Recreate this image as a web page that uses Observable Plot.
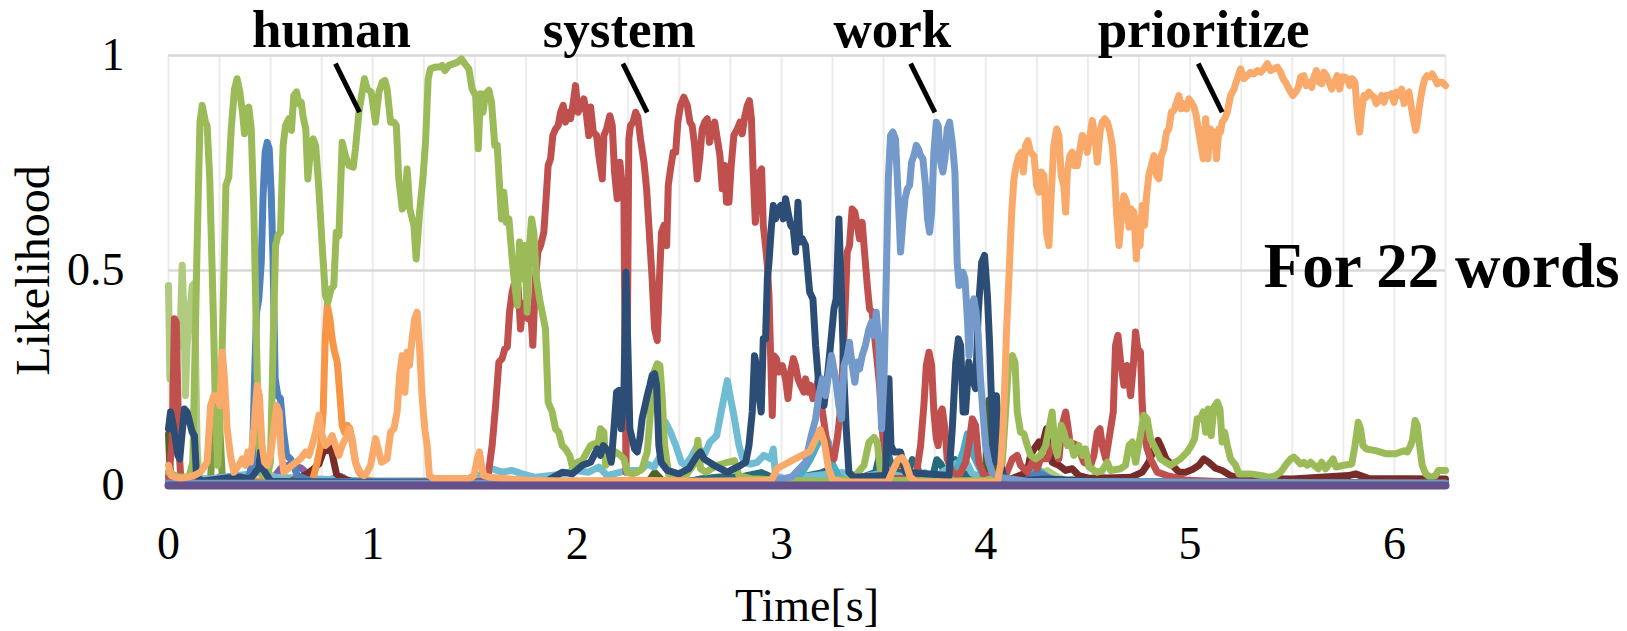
<!DOCTYPE html>
<html><head><meta charset="utf-8">
<script src="https://cdn.jsdelivr.net/npm/d3@7"></script>
<script src="https://cdn.jsdelivr.net/npm/@observablehq/plot@0.6"></script>
<style>html,body{margin:0;padding:0;background:#fff;} #chart{width:1627px;height:631px;} #chart svg text{font-family:'Liberation Serif','Times New Roman',serif;}</style>
</head><body><div id="chart"></div>
<script>
// ---- axis / tick values ----
const xTicks = [0, 1, 2, 3, 4, 5, 6];
const yTicks = [0, 0.5, 1];
const gridStep = 0.25;
const xMax = 6.25;

// ---- annotations ----
const words = ["human", "system", "work", "prioritize"];
const wordT = [0.798, 2.206, 3.543, 5.066];
const wordV = 1.019;
const leaderT1 = [0.817, 2.224, 3.632, 5.040];
const leaderT2 = [0.935, 2.343, 3.751, 5.157];
const leaderV1 = 0.981, leaderV2 = 0.868;
const note = "For 22 words";

// ---- series: [time s, likelihood] ----
const green = [[0,0.03],[0.05,0.02],[0.10,0.02],[0.119,0.054],[0.140,0.558],[0.154,0.845],[0.165,0.884],[0.181,0.845],[0.189,0.837],[0.202,0.713],[0.219,0.403],[0.230,0.171],[0.241,0.047],[0.255,0.171],[0.271,0.481],[0.281,0.698],[0.295,0.717],[0.307,0.829],[0.323,0.922],[0.336,0.946],[0.349,0.915],[0.362,0.868],[0.372,0.818],[0.382,0.876],[0.393,0.880],[0.405,0.829],[0.418,0.636],[0.431,0.326],[0.442,0.093],[0.458,0.023],[0.483,0.02],[0.499,0.054],[0.512,0.326],[0.524,0.558],[0.535,0.581],[0.548,0.589],[0.561,0.791],[0.573,0.837],[0.589,0.853],[0.602,0.826],[0.613,0.907],[0.627,0.915],[0.638,0.888],[0.650,0.891],[0.659,0.857],[0.672,0.829],[0.682,0.713],[0.695,0.783],[0.708,0.806],[0.720,0.791],[0.736,0.690],[0.752,0.558],[0.768,0.442],[0.780,0.426],[0.796,0.457],[0.809,0.465],[0.821,0.589],[0.834,0.581],[0.850,0.798],[0.866,0.767],[0.883,0.744],[0.904,0.740],[0.915,0.783],[0.932,0.868],[0.948,0.915],[0.959,0.946],[0.972,0.922],[0.992,0.915],[1.013,0.845],[1.030,0.915],[1.046,0.938],[1.059,0.942],[1.070,0.922],[1.087,0.845],[1.103,0.845],[1.115,0.837],[1.127,0.713],[1.144,0.643],[1.157,0.659],[1.168,0.736],[1.181,0.643],[1.201,0.605],[1.212,0.527],[1.229,0.636],[1.245,0.713],[1.258,0.798],[1.271,0.946],[1.282,0.969],[1.306,0.973],[1.326,0.973],[1.339,0.977],[1.353,0.965],[1.372,0.977],[1.397,0.981],[1.413,0.984],[1.434,0.992],[1.450,0.981],[1.470,0.969],[1.486,0.922],[1.503,0.907],[1.516,0.783],[1.527,0.911],[1.539,0.868],[1.552,0.911],[1.568,0.919],[1.581,0.891],[1.597,0.791],[1.609,0.791],[1.620,0.698],[1.630,0.620],[1.641,0.682],[1.654,0.612],[1.666,0.620],[1.682,0.527],[1.695,0.465],[1.707,0.419],[1.718,0.566],[1.731,0.481],[1.744,0.558],[1.755,0.403],[1.767,0.558],[1.777,0.620],[1.788,0.589],[1.801,0.481],[1.816,0.434],[1.829,0.403],[1.845,0.364],[1.858,0.194],[1.878,0.171],[1.894,0.132],[1.910,0.124],[1.927,0.093],[1.943,0.085],[1.963,0.070],[1.979,0.039],[2.000,0.054],[2.025,0.058],[2.066,0.093],[2.082,0.097],[2.098,0.085],[2.114,0.132],[2.131,0.124],[2.139,0.047],[2.163,0.062],[2.188,0.078],[2.212,0.070],[2.229,0.062],[2.245,0.031],[2.270,0.027],[2.294,0.031],[2.318,0.039],[2.343,0.078],[2.359,0.171],[2.376,0.264],[2.392,0.283],[2.405,0.279],[2.416,0.209],[2.428,0.093],[2.449,0.023],[2.490,0.016],[2.522,0.016],[2.555,0.039],[2.580,0.054],[2.591,0.105],[2.604,0.039],[2.629,0.031],[2.686,0.047],[2.710,0.050],[2.735,0.054],[2.770,0.058],[2.792,0.023],[2.849,0.016],[3.0,0.012],[3.2,0.01],[3.35,0.015],[3.404,0.047],[3.428,0.10],[3.453,0.112],[3.469,0.10],[3.485,0.031],[3.52,0.012],[3.8,0.01],[4.0,0.012],[4.06,0.02],[4.081,0.054],[4.097,0.171],[4.113,0.295],[4.130,0.302],[4.143,0.287],[4.154,0.171],[4.170,0.124],[4.187,0.120],[4.203,0.093],[4.219,0.070],[4.244,0.062],[4.268,0.070],[4.293,0.093],[4.309,0.132],[4.325,0.171],[4.338,0.093],[4.350,0.070],[4.369,0.140],[4.382,0.124],[4.399,0.093],[4.415,0.101],[4.431,0.070],[4.456,0.093],[4.472,0.070],[4.488,0.085],[4.505,0.043],[4.546,0.031],[4.570,0.035],[4.595,0.054],[4.611,0.035],[4.660,0.039],[4.684,0.047],[4.701,0.093],[4.717,0.101],[4.733,0.054],[4.754,0.109],[4.774,0.163],[4.790,0.155],[4.806,0.109],[4.823,0.093],[4.855,0.062],[4.904,0.047],[4.953,0.062],[4.986,0.078],[5.006,0.093],[5.022,0.109],[5.035,0.155],[5.051,0.155],[5.064,0.171],[5.076,0.124],[5.089,0.178],[5.103,0.116],[5.117,0.182],[5.133,0.194],[5.146,0.178],[5.157,0.101],[5.169,0.124],[5.182,0.093],[5.198,0.062],[5.223,0.047],[5.239,0.027],[5.296,0.027],[5.353,0.023],[5.386,0.019],[5.418,0.023],[5.443,0.031],[5.467,0.047],[5.492,0.062],[5.508,0.066],[5.525,0.058],[5.541,0.050],[5.557,0.054],[5.574,0.047],[5.590,0.054],[5.606,0.047],[5.627,0.039],[5.644,0.054],[5.663,0.039],[5.688,0.054],[5.700,0.062],[5.713,0.043],[5.753,0.047],[5.791,0.050],[5.807,0.093],[5.823,0.147],[5.834,0.132],[5.846,0.093],[5.862,0.085],[5.908,0.081],[5.957,0.074],[6.006,0.074],[6.047,0.081],[6.063,0.078],[6.079,0.093],[6.088,0.105],[6.101,0.151],[6.112,0.140],[6.123,0.093],[6.136,0.047],[6.153,0.027],[6.177,0.019],[6.201,0.023],[6.215,0.035],[6.250,0.035]];

const red = [[0,0.02],[0.018,0.10],[0.029,0.388],[0.038,0.38],[0.045,0.22],[0.052,0.08],[0.06,0.02],[0.1,0.008],[0.5,0.005],[1.0,0.005],[1.45,0.008],[1.560,0.008],[1.584,0.093],[1.601,0.186],[1.617,0.287],[1.633,0.295],[1.646,0.318],[1.658,0.322],[1.669,0.403],[1.682,0.450],[1.699,0.481],[1.712,0.457],[1.723,0.364],[1.734,0.419],[1.747,0.426],[1.760,0.388],[1.772,0.411],[1.783,0.326],[1.796,0.481],[1.808,0.543],[1.821,0.558],[1.837,0.589],[1.849,0.674],[1.858,0.744],[1.870,0.760],[1.881,0.814],[1.894,0.829],[1.907,0.837],[1.919,0.868],[1.932,0.884],[1.943,0.845],[1.956,0.868],[1.968,0.853],[1.979,0.884],[1.992,0.930],[2.005,0.868],[2.021,0.884],[2.033,0.899],[2.044,0.868],[2.057,0.814],[2.066,0.88],[2.079,0.822],[2.095,0.814],[2.106,0.767],[2.123,0.713],[2.131,0.814],[2.144,0.829],[2.160,0.860],[2.172,0.837],[2.183,0.729],[2.196,0.667],[2.209,0.752],[2.221,0.698],[2.229,0.659],[2.239,0.031],[2.248,0.481],[2.253,0.806],[2.261,0.837],[2.274,0.845],[2.286,0.868],[2.297,0.857],[2.310,0.806],[2.327,0.752],[2.340,0.690],[2.351,0.605],[2.367,0.481],[2.379,0.364],[2.392,0.337],[2.403,0.481],[2.413,0.589],[2.425,0.605],[2.438,0.558],[2.446,0.698],[2.457,0.736],[2.470,0.775],[2.482,0.775],[2.493,0.845],[2.506,0.884],[2.522,0.903],[2.539,0.884],[2.552,0.845],[2.563,0.837],[2.575,0.791],[2.588,0.713],[2.601,0.767],[2.612,0.829],[2.624,0.845],[2.637,0.853],[2.648,0.798],[2.661,0.829],[2.673,0.845],[2.686,0.806],[2.699,0.767],[2.710,0.690],[2.722,0.744],[2.731,0.659],[2.743,0.659],[2.754,0.744],[2.767,0.814],[2.784,0.829],[2.797,0.845],[2.808,0.818],[2.820,0.857],[2.833,0.884],[2.843,0.895],[2.853,0.853],[2.861,0.736],[2.872,0.612],[2.882,0.674],[2.893,0.729],[2.903,0.736],[2.911,0.605],[2.922,0.558],[2.931,0.512],[2.939,0.442],[2.947,0.302],[2.955,0.163],[2.963,0.302],[2.975,0.295],[2.988,0.264],[3.004,0.279],[3.020,0.248],[3.032,0.202],[3.045,0.264],[3.058,0.295],[3.069,0.279],[3.081,0.248],[3.094,0.233],[3.110,0.217],[3.118,0.248],[3.131,0.217],[3.142,0.233],[3.154,0.202],[3.167,0.217],[3.180,0.248],[3.191,0.202],[3.208,0.147],[3.224,0.093],[3.240,0.070],[3.257,0.062],[3.273,0.109],[3.286,0.163],[3.297,0.248],[3.311,0.403],[3.322,0.543],[3.333,0.558],[3.346,0.643],[3.359,0.636],[3.371,0.605],[3.382,0.574],[3.395,0.612],[3.408,0.535],[3.420,0.465],[3.431,0.411],[3.444,0.403],[3.457,0.341],[3.469,0.287],[3.480,0.233],[3.493,0.132],[3.510,0.039],[3.542,0.016],[3.657,0.016],[3.681,0.093],[3.697,0.186],[3.709,0.279],[3.722,0.310],[3.735,0.279],[3.746,0.171],[3.758,0.109],[3.767,0.093],[3.779,0.171],[3.787,0.178],[3.800,0.132],[3.811,0.062],[3.836,0.031],[3.869,0.023],[3.901,0.054],[3.917,0.093],[3.934,0.155],[3.950,0.140],[3.966,0.054],[3.991,0.023],[4.097,0.023],[4.130,0.062],[4.154,0.070],[4.170,0.047],[4.203,0.031],[4.235,0.062],[4.252,0.039],[4.268,0.062],[4.301,0.062],[4.325,0.093],[4.342,0.101],[4.358,0.062],[4.374,0.140],[4.391,0.171],[4.399,0.147],[4.412,0.101],[4.448,0.093],[4.480,0.054],[4.513,0.047],[4.529,0.070],[4.546,0.124],[4.559,0.132],[4.570,0.093],[4.587,0.062],[4.598,0.093],[4.611,0.132],[4.624,0.171],[4.635,0.326],[4.647,0.349],[4.660,0.287],[4.676,0.233],[4.692,0.279],[4.709,0.209],[4.722,0.279],[4.733,0.357],[4.744,0.318],[4.757,0.310],[4.766,0.186],[4.777,0.116],[4.790,0.085],[4.806,0.062],[4.839,0.031],[4.888,0.023],[4.986,0.012],[5.2,0.008],[6.25,0.005]];

const navy = [[0,0.132],[0.010,0.171],[0.023,0.140],[0.034,0.109],[0.046,0.070],[0.055,0.062],[0.067,0.124],[0.078,0.178],[0.091,0.171],[0.104,0.147],[0.116,0.124],[0.127,0.116],[0.137,0.023],[0.16,0.01],[0.25,0.015],[0.35,0.02],[0.40,0.015],[0.44,0.04],[0.45,0.078],[0.46,0.04],[0.5,0.01],[0.7,0.008],[1.5,0.005],[1.85,0.01],[1.927,0.031],[1.976,0.027],[2.025,0.047],[2.066,0.054],[2.098,0.085],[2.114,0.070],[2.128,0.093],[2.155,0.078],[2.167,0.054],[2.180,0.132],[2.193,0.217],[2.204,0.221],[2.216,0.132],[2.229,0.217],[2.239,0.496],[2.248,0.326],[2.258,0.132],[2.281,0.085],[2.294,0.078],[2.307,0.109],[2.318,0.155],[2.343,0.209],[2.356,0.233],[2.367,0.256],[2.379,0.260],[2.389,0.233],[2.400,0.093],[2.411,0.054],[2.441,0.035],[2.498,0.027],[2.547,0.039],[2.588,0.070],[2.604,0.078],[2.621,0.062],[2.670,0.047],[2.735,0.031],[2.800,0.047],[2.825,0.054],[2.841,0.093],[2.857,0.171],[2.868,0.302],[2.878,0.279],[2.890,0.209],[2.901,0.171],[2.911,0.341],[2.922,0.341],[2.931,0.481],[2.939,0.519],[2.950,0.597],[2.960,0.651],[2.971,0.620],[2.983,0.643],[2.996,0.651],[3.009,0.620],[3.020,0.667],[3.032,0.636],[3.045,0.605],[3.058,0.597],[3.069,0.543],[3.081,0.659],[3.090,0.566],[3.102,0.574],[3.118,0.558],[3.138,0.450],[3.154,0.434],[3.167,0.326],[3.187,0.209],[3.208,0.186],[3.224,0.248],[3.240,0.326],[3.257,0.411],[3.268,0.434],[3.281,0.620],[3.294,0.442],[3.306,0.248],[3.317,0.132],[3.330,0.031],[3.354,0.019],[3.509,0.023],[3.526,0.248],[3.536,0.093],[3.550,0.078],[3.583,0.078],[3.607,0.031],[3.820,0.023],[3.836,0.132],[3.853,0.287],[3.866,0.341],[3.877,0.326],[3.889,0.171],[3.901,0.171],[3.917,0.287],[3.934,0.248],[3.950,0.225],[3.963,0.403],[3.980,0.519],[3.994,0.535],[4.008,0.442],[4.019,0.326],[4.032,0.132],[4.040,0.054],[4.052,0.209],[4.061,0.140],[4.073,0.047],[4.089,0.019],[4.12,0.01],[4.3,0.015],[4.6,0.008],[6.25,0.005]];

const lightBlue = [[0,0.005],[2.9,0.005],[3.05,0.02],[3.118,0.054],[3.142,0.109],[3.167,0.155],[3.183,0.209],[3.200,0.248],[3.216,0.209],[3.232,0.264],[3.245,0.302],[3.265,0.248],[3.281,0.186],[3.294,0.155],[3.306,0.279],[3.322,0.302],[3.333,0.333],[3.346,0.279],[3.359,0.240],[3.371,0.287],[3.382,0.271],[3.395,0.302],[3.411,0.326],[3.428,0.364],[3.441,0.380],[3.453,0.349],[3.464,0.403],[3.477,0.326],[3.490,0.132],[3.502,0.248],[3.513,0.481],[3.523,0.713],[3.534,0.814],[3.545,0.822],[3.558,0.806],[3.571,0.674],[3.583,0.543],[3.595,0.620],[3.605,0.667],[3.616,0.690],[3.627,0.698],[3.637,0.752],[3.648,0.767],[3.660,0.791],[3.670,0.783],[3.681,0.767],[3.692,0.760],[3.705,0.698],[3.715,0.620],[3.725,0.589],[3.735,0.636],[3.746,0.775],[3.758,0.845],[3.767,0.837],[3.779,0.752],[3.790,0.729],[3.800,0.760],[3.811,0.829],[3.823,0.845],[3.836,0.798],[3.849,0.729],[3.860,0.519],[3.869,0.465],[3.878,0.496],[3.888,0.496],[3.898,0.481],[3.910,0.388],[3.918,0.302],[3.931,0.419],[3.942,0.434],[3.953,0.403],[3.963,0.349],[3.974,0.248],[3.986,0.171],[3.999,0.093],[4.015,0.054],[4.031,0.031],[4.064,0.019],[4.2,0.01],[6.25,0.005]];

const lightOrange = [[0.000,0.047],[0.013,0.023],[0.059,0.016],[0.124,0.023],[0.157,0.031],[0.189,0.054],[0.206,0.186],[0.222,0.209],[0.238,0.209],[0.251,0.186],[0.263,0.310],[0.274,0.248],[0.287,0.132],[0.303,0.070],[0.320,0.031],[0.344,0.047],[0.361,0.062],[0.377,0.047],[0.388,0.078],[0.401,0.054],[0.418,0.132],[0.434,0.233],[0.445,0.209],[0.458,0.093],[0.470,0.054],[0.483,0.047],[0.499,0.070],[0.516,0.132],[0.529,0.186],[0.542,0.171],[0.551,0.078],[0.565,0.031],[0.605,0.047],[0.646,0.062],[0.671,0.078],[0.687,0.070],[0.703,0.093],[0.720,0.124],[0.736,0.163],[0.752,0.116],[0.768,0.093],[0.785,0.101],[0.801,0.116],[0.817,0.093],[0.834,0.070],[0.850,0.093],[0.866,0.109],[0.883,0.132],[0.899,0.109],[0.915,0.054],[0.937,0.031],[0.956,0.023],[0.972,0.031],[0.989,0.047],[1.013,0.109],[1.043,0.054],[1.070,0.062],[1.087,0.124],[1.103,0.132],[1.119,0.171],[1.131,0.256],[1.144,0.302],[1.157,0.217],[1.168,0.310],[1.179,0.279],[1.192,0.341],[1.205,0.388],[1.217,0.403],[1.228,0.326],[1.241,0.209],[1.254,0.132],[1.266,0.093],[1.277,0.023],[1.299,0.016],[1.470,0.016],[1.495,0.023],[1.511,0.062],[1.522,0.078],[1.532,0.047],[1.543,0.023],[1.576,0.019],[1.75,0.012],[2.0,0.01],[2.3,0.012],[2.6,0.01],[2.95,0.012],[2.98,0.04],[3.02,0.05],[3.06,0.06],[3.10,0.07],[3.14,0.08],[3.17,0.11],[3.19,0.13],[3.21,0.10],[3.23,0.04],[3.25,0.015],[3.30,0.008],[3.52,0.008],[3.55,0.04],[3.57,0.06],[3.59,0.065],[3.61,0.05],[3.63,0.02],[3.66,0.008],[4.056,0.008],[4.073,0.047],[4.084,0.132],[4.094,0.248],[4.102,0.364],[4.113,0.481],[4.127,0.636],[4.138,0.713],[4.149,0.744],[4.162,0.767],[4.175,0.775],[4.184,0.729],[4.195,0.791],[4.206,0.802],[4.219,0.775],[4.236,0.767],[4.249,0.698],[4.260,0.682],[4.272,0.729],[4.285,0.721],[4.297,0.589],[4.309,0.558],[4.320,0.674],[4.333,0.791],[4.347,0.829],[4.358,0.814],[4.369,0.721],[4.382,0.698],[4.391,0.636],[4.399,0.729],[4.412,0.767],[4.423,0.775],[4.435,0.744],[4.448,0.744],[4.461,0.783],[4.472,0.814],[4.484,0.806],[4.497,0.775],[4.510,0.814],[4.521,0.849],[4.533,0.814],[4.546,0.752],[4.559,0.822],[4.570,0.845],[4.582,0.853],[4.595,0.845],[4.608,0.822],[4.619,0.791],[4.630,0.729],[4.640,0.636],[4.652,0.558],[4.663,0.620],[4.676,0.674],[4.689,0.659],[4.701,0.601],[4.712,0.643],[4.725,0.636],[4.737,0.527],[4.745,0.620],[4.755,0.558],[4.766,0.651],[4.777,0.605],[4.787,0.674],[4.798,0.721],[4.810,0.744],[4.823,0.767],[4.836,0.721],[4.847,0.713],[4.859,0.767],[4.872,0.783],[4.885,0.822],[4.896,0.829],[4.908,0.868],[4.921,0.872],[4.934,0.891],[4.945,0.907],[4.957,0.876],[4.970,0.888],[4.983,0.876],[4.994,0.899],[5.006,0.891],[5.019,0.880],[5.030,0.860],[5.040,0.829],[5.051,0.798],[5.064,0.760],[5.076,0.853],[5.087,0.760],[5.100,0.829],[5.110,0.806],[5.120,0.822],[5.129,0.760],[5.141,0.829],[5.149,0.822],[5.157,0.845],[5.169,0.853],[5.182,0.868],[5.198,0.907],[5.215,0.922],[5.231,0.946],[5.247,0.969],[5.263,0.946],[5.280,0.953],[5.296,0.961],[5.312,0.957],[5.329,0.965],[5.345,0.961],[5.361,0.969],[5.378,0.981],[5.394,0.965],[5.410,0.969],[5.427,0.973],[5.443,0.961],[5.455,0.946],[5.467,0.938],[5.480,0.926],[5.492,0.915],[5.503,0.907],[5.517,0.915],[5.530,0.926],[5.541,0.950],[5.557,0.953],[5.569,0.930],[5.582,0.938],[5.595,0.926],[5.606,0.950],[5.618,0.965],[5.631,0.938],[5.644,0.934],[5.655,0.961],[5.667,0.953],[5.680,0.938],[5.693,0.922],[5.704,0.934],[5.720,0.953],[5.732,0.922],[5.745,0.950],[5.758,0.950],[5.769,0.946],[5.781,0.930],[5.794,0.946],[5.807,0.938],[5.818,0.868],[5.830,0.822],[5.839,0.868],[5.851,0.907],[5.862,0.903],[5.875,0.915],[5.888,0.907],[5.900,0.903],[5.911,0.888],[5.924,0.895],[5.937,0.907],[5.949,0.891],[5.960,0.907],[5.973,0.907],[5.986,0.911],[5.998,0.891],[6.009,0.915],[6.022,0.907],[6.035,0.922],[6.047,0.888],[6.058,0.907],[6.071,0.915],[6.084,0.876],[6.096,0.845],[6.104,0.826],[6.112,0.845],[6.123,0.884],[6.136,0.922],[6.149,0.946],[6.160,0.953],[6.172,0.950],[6.185,0.957],[6.198,0.946],[6.210,0.934],[6.221,0.938],[6.234,0.938],[6.250,0.930]];

const orange = [[0,0.03],[0.02,0.01],[0.7,0.01],[0.711,0.023],[0.728,0.054],[0.744,0.093],[0.757,0.171],[0.767,0.341],[0.777,0.419],[0.790,0.388],[0.801,0.341],[0.813,0.310],[0.826,0.287],[0.839,0.209],[0.850,0.140],[0.861,0.124],[0.875,0.140],[0.888,0.132],[0.899,0.101],[0.915,0.054],[0.932,0.031],[0.956,0.016],[1.0,0.01],[1.5,0.005],[6.25,0.005]];

const blue = [[0,0.01],[0.2,0.01],[0.3,0.02],[0.35,0.01],[0.393,0.019],[0.410,0.054],[0.421,0.248],[0.431,0.403],[0.442,0.434],[0.454,0.519],[0.463,0.674],[0.473,0.775],[0.483,0.798],[0.493,0.783],[0.503,0.674],[0.512,0.519],[0.522,0.248],[0.535,0.209],[0.548,0.202],[0.561,0.132],[0.578,0.070],[0.597,0.062],[0.613,0.047],[0.630,0.023],[0.7,0.01],[3.0,0.005],[4.2,0.01],[4.25,0.03],[4.3,0.02],[4.35,0.01],[6.25,0.005]];

const darkRed = [[0,0.005],[0.6,0.01],[0.679,0.027],[0.711,0.039],[0.736,0.050],[0.757,0.078],[0.772,0.093],[0.782,0.081],[0.793,0.097],[0.806,0.062],[0.822,0.027],[0.850,0.016],[0.907,0.008],[4.1,0.01],[4.203,0.031],[4.219,0.070],[4.236,0.085],[4.260,0.101],[4.272,0.085],[4.285,0.109],[4.297,0.132],[4.309,0.093],[4.325,0.054],[4.358,0.047],[4.391,0.035],[4.423,0.039],[4.456,0.023],[4.513,0.016],[4.709,0.019],[4.766,0.031],[4.798,0.054],[4.823,0.085],[4.843,0.105],[4.859,0.089],[4.882,0.062],[4.913,0.047],[4.945,0.031],[4.978,0.031],[5.011,0.037],[5.043,0.047],[5.067,0.062],[5.092,0.054],[5.125,0.040],[5.157,0.035],[5.198,0.023],[5.247,0.016],[5.5,0.015],[5.777,0.023],[5.81,0.027],[5.875,0.016],[6.25,0.015]];

const lightGreen = [[0,0.465],[0.007,0.248],[0.013,0.364],[0.023,0.171],[0.034,0.225],[0.046,0.364],[0.055,0.326],[0.067,0.512],[0.075,0.403],[0.083,0.209],[0.091,0.326],[0.104,0.403],[0.116,0.465],[0.124,0.469],[0.132,0.326],[0.140,0.093],[0.148,0.023],[0.16,0.01],[0.3,0.02],[0.40,0.02],[0.44,0.04],[0.46,0.05],[0.48,0.03],[0.55,0.01],[1.0,0.005],[4.15,0.01],[4.2,0.03],[4.25,0.02],[4.3,0.035],[4.35,0.02],[4.4,0.01],[4.45,0.02],[4.5,0.01],[4.55,0.03],[4.6,0.01],[4.7,0.02],[4.75,0.01],[6.25,0.005]];

const oliveGreen = [[0,0.005],[0.206,0.016],[0.219,0.132],[0.230,0.186],[0.241,0.182],[0.251,0.132],[0.263,0.023],[0.3,0.005],[6.25,0.005]];

const darkOlive = [[0,0.12],[0.005,0.06],[0.012,0.02],[0.05,0.01],[2.35,0.01],[2.38,0.03],[2.42,0.01],[3.999,0.023],[4.008,0.171],[4.015,0.198],[4.024,0.186],[4.032,0.093],[4.040,0.023],[4.1,0.01],[6.25,0.005]];

const lightCyan = [[0,0.02],[0.2,0.015],[0.45,0.03],[0.5,0.02],[1.0,0.01],[1.4,0.01],[1.5,0.02],[1.552,0.031],[1.584,0.039],[1.633,0.031],[1.682,0.035],[1.731,0.027],[1.796,0.019],[1.862,0.023],[1.927,0.027],[1.992,0.035],[2.057,0.031],[2.106,0.043],[2.147,0.023],[2.245,0.035],[2.310,0.035],[2.343,0.050],[2.376,0.043],[2.408,0.070],[2.421,0.140],[2.433,0.147],[2.457,0.124],[2.483,0.093],[2.510,0.054],[2.531,0.047],[2.563,0.070],[2.588,0.093],[2.621,0.070],[2.650,0.101],[2.683,0.116],[2.705,0.171],[2.727,0.225],[2.735,0.244],[2.745,0.217],[2.767,0.163],[2.792,0.093],[2.816,0.054],[2.849,0.050],[2.881,0.054],[2.914,0.070],[2.947,0.062],[2.960,0.085],[2.971,0.023],[3.012,0.016],[3.1,0.02],[3.3,0.03],[3.4,0.02],[3.5,0.03],[3.6,0.02],[3.7,0.03],[3.75,0.02],[3.85,0.05],[3.9,0.06],[3.93,0.03],[4.0,0.01],[6.25,0.005]];

const cyan = [[0,0.01],[3.0,0.005],[3.05,0.01],[3.10,0.03],[3.14,0.06],[3.17,0.09],[3.19,0.11],[3.21,0.12],[3.23,0.10],[3.25,0.05],[3.28,0.02],[3.32,0.01],[3.83,0.02],[3.86,0.04],[3.89,0.08],[3.91,0.12],[3.925,0.11],[3.94,0.07],[3.96,0.05],[3.98,0.03],[4.0,0.01],[4.2,0.02],[4.25,0.04],[4.3,0.02],[4.35,0.005],[6.25,0.005]];

const teal = [[0,0.005],[2.5,0.005],[2.6,0.015],[2.7,0.02],[2.8,0.02],[2.9,0.03],[2.95,0.02],[3.0,0.01],[3.1,0.02],[3.2,0.03],[3.25,0.04],[3.3,0.02],[3.4,0.02],[3.46,0.03],[3.49,0.09],[3.51,0.10],[3.53,0.06],[3.56,0.03],[3.62,0.03],[3.64,0.06],[3.66,0.05],[3.68,0.02],[3.74,0.02],[3.76,0.06],[3.78,0.05],[3.80,0.03],[3.83,0.05],[3.85,0.06],[3.88,0.03],[3.95,0.02],[4.05,0.005],[6.25,0.005]];

const brown = [[0,0],[3.52,0],[3.55,0.03],[3.57,0.05],[3.60,0.045],[3.62,0.01],[3.65,0],[6.25,0]];

const purple = [[0,0.005],[0.2,0],[0.25,0.02],[0.3,0.005],[0.5,0.01],[0.55,0.04],[0.6,0.05],[0.65,0.04],[0.7,0.02],[0.75,0.01],[0.85,0.02],[0.9,0.005],[6.25,0]];

const baseline = [[0,0],[6.25,0]];

const seriesList = [
  {data: purple, color: "#8064A2"},
  {data: brown, color: "#B65708"},
  {data: darkOlive, color: "#4F6228"},
  {data: oliveGreen, color: "#7E9C43"},
  {data: lightGreen, color: "#B0CB80"},
  {data: teal, color: "#276A7C"},
  {data: lightCyan, color: "#70BDD3"},
  {data: cyan, color: "#4BACC6"},
  {data: darkRed, color: "#772C2A"},
  {data: orange, color: "#F79646"},
  {data: blue, color: "#4F81BD"},
  {data: red, color: "#C0504D"},
  {data: green, color: "#9BBB59"},
  {data: navy, color: "#2C4D75"},
  {data: lightBlue, color: "#739ACB"},
  {data: lightOrange, color: "#F9AA6A"},
  {data: baseline, color: "#65518A", width: 8}
];

const annotations = words.map((w, i) => ({w, t: wordT[i], v: wordV}));
const leaders = words.map((w, i) => ({t1: leaderT1[i], t2: leaderT2[i], v1: leaderV1, v2: leaderV2}));
const gridTimes = d3.range(0, xMax + 1e-9, gridStep);
const serif = "'Liberation Serif', 'Times New Roman', serif";

const chart = Plot.plot({
  width: 1627,
  height: 631,
  marginLeft: 168,
  marginRight: 182,
  marginTop: 55,
  marginBottom: 146,
  style: {fontFamily: serif, color: "#000", background: "#fff"},
  x: {domain: [0, xMax]},
  y: {domain: [0, 1]},
  marks: [
    Plot.gridX(gridTimes, {stroke: "#ececec", strokeOpacity: 1, strokeWidth: 2}),
    Plot.gridY([0.5, 1], {stroke: "#d9d9d9", strokeOpacity: 1, strokeWidth: 2.5}),
    Plot.axisX({ticks: xTicks, tickSize: 0, tickPadding: 41, fontSize: 46, fontFamily: serif, fontVariant: "normal", label: null, tickFormat: d => String(d)}),
    Plot.axisY({ticks: yTicks, tickSize: 0, tickPadding: 44, fontSize: 46, fontFamily: serif, fontVariant: "normal", label: null, tickFormat: d => String(d)}),
    ...seriesList.map(s => Plot.line(s.data, {x: d => d[0], y: d => d[1], stroke: s.color, strokeWidth: s.width || 7, strokeLinejoin: "round", strokeLinecap: "round"})),
    Plot.link(leaders, {x1: "t1", y1: "v1", x2: "t2", y2: "v2", stroke: "#000", strokeWidth: 5}),
    Plot.text(annotations, {x: "t", y: "v", text: "w", fontSize: 53, fontWeight: "bold", fontFamily: serif, lineAnchor: "bottom", fill: "#000"}),
    Plot.text([note], {x: 5.36, y: 0.461, text: d => d, fontSize: 63, fontWeight: "bold", fontFamily: serif, textAnchor: "start", lineAnchor: "bottom", fill: "#000"}),
    Plot.text(["Time[s]"], {text: d => d, frameAnchor: "bottom", dy: 135, fontSize: 46, fontFamily: serif, textAnchor: "middle", lineAnchor: "bottom", fill: "#000"}),
    Plot.text(["Likelihood"], {text: d => d, frameAnchor: "left", dx: -135, rotate: -90, fontSize: 48, fontFamily: serif, textAnchor: "middle", lineAnchor: "middle", fill: "#000"})
  ]
});
document.getElementById("chart").appendChild(chart);
</script></body></html>
